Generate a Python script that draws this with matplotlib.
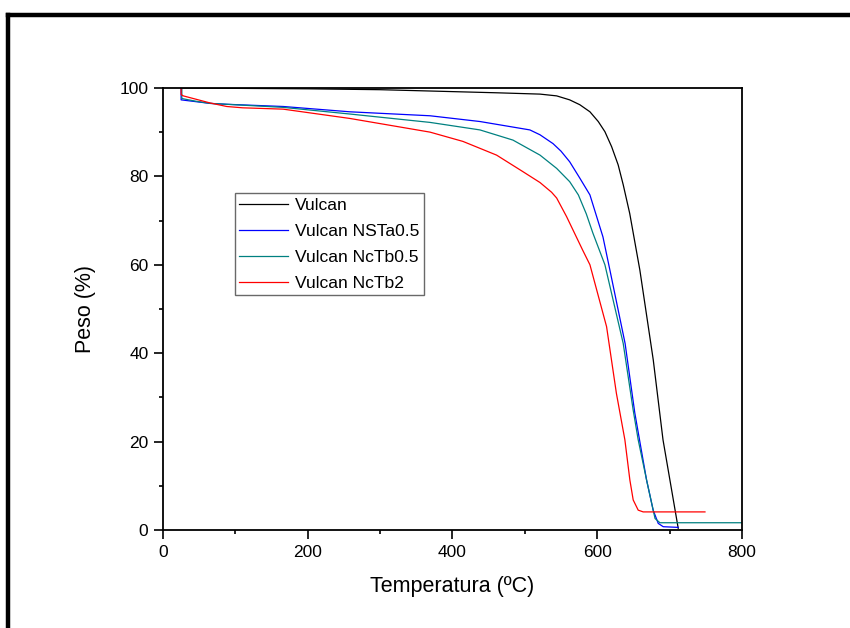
import matplotlib
matplotlib.use('Agg')
import matplotlib.pyplot as plt
from matplotlib.lines import Line2D
from matplotlib.ticker import MultipleLocator

plt.rcParams['font.family'] = ['Liberation Sans', 'DejaVu Sans']

# Vulcan
t_vulcan = [25, 100, 200, 300, 369, 461, 521, 544, 562, 576, 590, 601.5, 610.7,
            620, 629, 636, 645, 659, 677.5, 691, 712]
w_vulcan = [100, 99.9, 99.8, 99.6, 99.3, 98.9, 98.6, 98.2, 97.3, 96.2, 94.6, 92.4, 90.1,
            86.7, 82.6, 78.1, 71.6, 58.8, 38.5, 20.4, 0.4]

# Vulcan NSTa0.5
t_nsta = [25, 25, 40, 65, 88, 166, 258, 369, 438, 507, 521, 539, 550, 562, 576, 590,
          608, 617.6, 638.6, 652, 668.3, 677.4, 684.4, 691.3, 712]
w_nsta = [100, 97.3, 97.0, 96.5, 96.3, 95.8, 94.6, 93.7, 92.4, 90.5, 89.4, 87.4, 85.7,
          83.3, 79.6, 75.8, 66.3, 58.8, 42.2, 26.5, 11.3, 4.5, 1.5, 0.75, 0.6]

# Vulcan NcTb0.5
t_nctb05 = [26, 26, 45, 65, 166, 258, 369, 438, 483.6, 521, 544, 562, 574, 585, 594,
            610.7, 636, 649.8, 656.7, 668.3, 677.4, 680, 686.7, 800]
w_nctb05 = [100, 97.6, 97.0, 96.5, 95.6, 94.1, 92.2, 90.5, 88.2, 84.8, 81.8, 78.8, 75.8,
            71.5, 67.2, 60.0, 42.2, 27.1, 20.4, 11.3, 4.5, 2.6, 1.65, 1.65]

# Vulcan NcTb2
t_nctb2 = [25, 25, 28, 65, 88, 110, 166, 258, 369, 414.5, 461, 497, 521, 537, 544,
           557.7, 580, 590, 613, 626.6, 638.3, 645.2, 649.8, 656.7, 663.6, 749]
w_nctb2 = [100, 98.5, 98.2, 96.6, 95.8, 95.5, 95.2, 93.1, 90.0, 87.9, 84.8, 81.1, 78.6,
           76.4, 75.1, 70.9, 63.3, 60.0, 46.0, 30.9, 20.4, 11.3, 6.8, 4.5, 4.1, 4.1]

fig = plt.figure(figsize=(8.5, 6.28), dpi=100)
ax = fig.add_axes([0.1918, 0.156, 0.681, 0.704])

ax.plot(t_vulcan, w_vulcan, color='black', lw=0.9, label='Vulcan')
ax.plot(t_nsta, w_nsta, color='#0000ff', lw=0.9, label='Vulcan NSTa0.5')
ax.plot(t_nctb05, w_nctb05, color='#008080', lw=0.9, label='Vulcan NcTb0.5')
ax.plot(t_nctb2, w_nctb2, color='#ff0000', lw=0.9, label='Vulcan NcTb2')

ax.set_xlim(0, 800)
ax.set_ylim(0, 100)
ax.xaxis.set_major_locator(MultipleLocator(200))
ax.xaxis.set_minor_locator(MultipleLocator(100))
ax.yaxis.set_major_locator(MultipleLocator(20))
ax.yaxis.set_minor_locator(MultipleLocator(10))
ax.tick_params(which='major', direction='out', length=6.5, width=1.2, labelsize=12.5, pad=4)
ax.tick_params(which='minor', direction='out', length=3, width=1.2)
for s in ax.spines.values():
    s.set_linewidth(1.3)

ax.set_xlabel('Temperatura (ºC)', fontsize=15.5, labelpad=12)
ax.set_ylabel('Peso (%)', fontsize=15.5, labelpad=17)

leg = ax.legend(loc='upper left', bbox_to_anchor=(0.124, 0.762), borderaxespad=0,
                fontsize=12.6, frameon=True, fancybox=False, handlelength=2.8,
                handletextpad=0.4, labelspacing=0.62, borderpad=0.25)
leg.get_frame().set_edgecolor('#444444')
leg.get_frame().set_linewidth(1.0)

# outer frame (top and left)
fig.add_artist(Line2D([0.0095, 1.0], [1 - 15 / 628, 1 - 15 / 628], color='black', lw=3.2,
                      transform=fig.transFigure, solid_capstyle='projecting'))
fig.add_artist(Line2D([0.0095, 0.0095], [0.0, 1 - 15 / 628], color='black', lw=3.2,
                      transform=fig.transFigure, solid_capstyle='projecting'))

fig.savefig('out.png', dpi=100)
